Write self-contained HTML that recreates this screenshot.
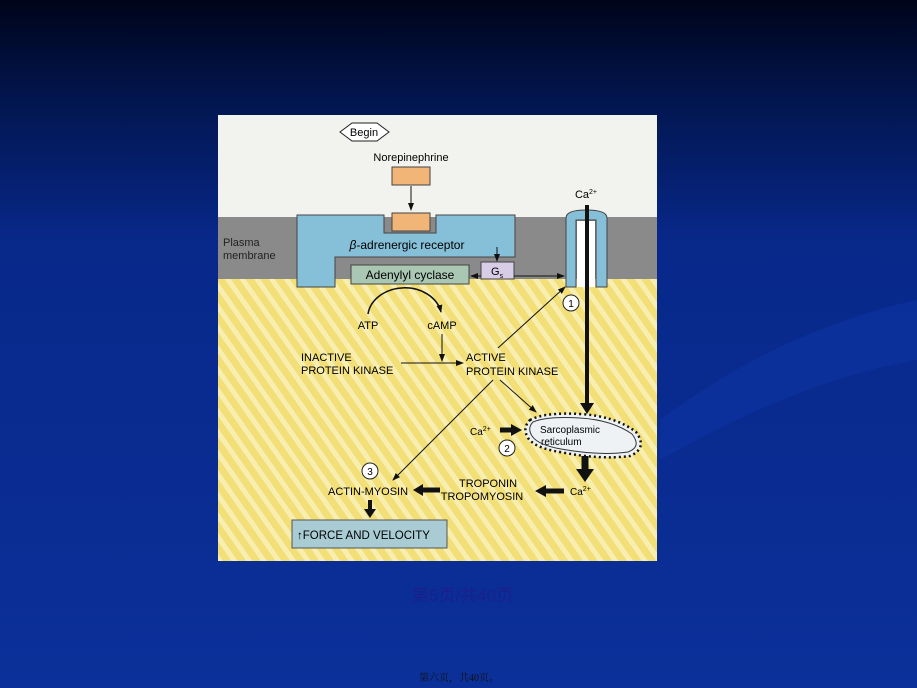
<!DOCTYPE html>
<html><head><meta charset="utf-8"><style>
html,body{margin:0;padding:0;width:917px;height:688px;overflow:hidden;background:linear-gradient(#00041a 0%,#021650 15%,#08288a 35%,#0b3099 100%);}
svg{position:absolute;left:0;top:0}
.cap{position:absolute;left:412px;top:581px;font:17px "Liberation Sans","Noto Sans CJK SC",sans-serif;color:#1a1f8c;}
.foot{position:absolute;left:419px;top:669px;font:10px "Liberation Serif","Noto Serif CJK SC",serif;color:#111;}
</style></head><body>
<svg width="917" height="688" font-family="Liberation Sans, sans-serif">
<defs>
<pattern id="yl" width="12" height="12" patternUnits="userSpaceOnUse" patternTransform="rotate(-35)">
<rect width="12" height="12" fill="#f2df78"/><rect width="5" height="12" fill="#f8eeb0"/></pattern>
<marker id="a" markerWidth="8" markerHeight="8" refX="7" refY="4" orient="auto" markerUnits="userSpaceOnUse"><path d="M0,1 L8,4 L0,7z" fill="#111"/></marker>
</defs>
<path d="M660,420 Q780,330 917,300 L917,360 Q800,380 660,460z" fill="#0d36a6" opacity="0.5"/>
<rect x="218" y="115" width="439" height="446" fill="#f2f2ef"/>
<rect x="218" y="278" width="439" height="283" fill="url(#yl)"/>
<rect x="218" y="217" width="439" height="62" fill="#8a8a8a"/>
<path d="M340,132 L352,123 L377,123 L389,132 L377,141 L352,141z" fill="#fff" stroke="#222"/>
<text x="364" y="136" font-size="11" text-anchor="middle">Begin</text>
<text x="411" y="161" font-size="11" text-anchor="middle">Norepinephrine</text>
<rect x="392" y="167" width="38" height="18" fill="#f0b577" stroke="#444"/>
<line x1="411" y1="186" x2="411" y2="210" stroke="#111" marker-end="url(#a)"/>
<path d="M297,215 L384,215 L384,233 L436,233 L436,215 L515,215 L515,257 L335,257 L335,287 L297,287z" fill="#86bfd8" stroke="#444"/>
<rect x="392" y="213" width="38" height="18" fill="#f0b577" stroke="#444"/>
<text x="407" y="249" font-size="12" text-anchor="middle"><tspan font-style="italic">β</tspan>-adrenergic receptor</text>
<text x="223" y="246" font-size="11" fill="#222">Plasma</text>
<text x="223" y="259" font-size="11" fill="#222">membrane</text>
<rect x="351" y="265" width="118" height="19" fill="#a9c7b2" stroke="#444"/>
<text x="410" y="279" font-size="12" text-anchor="middle">Adenylyl cyclase</text>
<rect x="481" y="262" width="33" height="17" fill="#d8cde6" stroke="#444"/>
<text x="491" y="275" font-size="11">G<tspan font-size="7" dy="3">s</tspan></text>
<line x1="497" y1="247" x2="497" y2="261" stroke="#111" marker-end="url(#a)"/>
<line x1="481" y1="276" x2="471" y2="276" stroke="#111" marker-end="url(#a)"/>
<line x1="514" y1="276" x2="564" y2="276" stroke="#111" marker-end="url(#a)"/>
<path d="M566,287 L566,218 Q566,210 586,210 Q607,210 607,218 L607,287 L596,287 L596,220 L576,220 L576,287z" fill="#86bfd8" stroke="#444"/>
<rect x="577" y="221" width="18" height="66" fill="#fff"/>
<text x="586" y="198" font-size="11" text-anchor="middle">Ca<tspan font-size="7" dy="-4">2+</tspan></text>
<line x1="587" y1="205" x2="587" y2="404" stroke="#111" stroke-width="4"/>
<path d="M580,403 L594,403 L587,414z" fill="#111"/>
<circle cx="571" cy="303" r="8" fill="#fff" stroke="#222"/><text x="571" y="307" font-size="10" text-anchor="middle">1</text>
<path d="M368,314 A37,30 0 0 1 441,312" fill="none" stroke="#111" stroke-width="1.5" marker-end="url(#a)"/>
<text x="368" y="329" font-size="11" text-anchor="middle">ATP</text>
<text x="442" y="329" font-size="11" text-anchor="middle">cAMP</text>
<line x1="442" y1="334" x2="442" y2="361" stroke="#111" marker-end="url(#a)"/>
<text x="301" y="361" font-size="11">INACTIVE</text>
<text x="301" y="374" font-size="11">PROTEIN KINASE</text>
<line x1="401" y1="363" x2="463" y2="363" stroke="#111" marker-end="url(#a)"/>
<text x="466" y="361" font-size="11">ACTIVE</text>
<text x="466" y="375" font-size="11">PROTEIN KINASE</text>
<line x1="498" y1="348" x2="565" y2="287" stroke="#111" marker-end="url(#a)"/>
<line x1="493" y1="380" x2="393" y2="480" stroke="#111" marker-end="url(#a)"/>
<line x1="500" y1="380" x2="536" y2="412" stroke="#111" marker-end="url(#a)"/>
<path d="M530,420 Q545,412 580,414 Q615,416 636,432 Q648,448 630,456 Q600,460 560,452 Q535,448 528,438 Q522,428 530,420z" fill="#eef2f5" stroke="#111" stroke-width="2.5" stroke-dasharray="2,3"/>
<path d="M533,422 Q547,416 580,418 Q612,420 632,434 Q642,447 628,452 Q600,456 561,449 Q538,445 532,436 Q527,428 533,422z" fill="#eef2f5" stroke="#333"/>
<text x="540" y="433" font-size="10">Sarcoplasmic</text>
<text x="541" y="445" font-size="10">reticulum</text>
<text x="470" y="435" font-size="10">Ca<tspan font-size="7" dy="-4">2+</tspan></text>
<line x1="500" y1="430" x2="512" y2="430" stroke="#111" stroke-width="5"/><path d="M511,424 L522,430 L511,436z" fill="#111"/>
<circle cx="507" cy="448" r="8" fill="#fff" stroke="#222"/><text x="507" y="452" font-size="10" text-anchor="middle">2</text>
<line x1="585" y1="456" x2="585" y2="470" stroke="#111" stroke-width="7"/><path d="M576,469 L594,469 L585,482z" fill="#111"/>
<text x="570" y="495" font-size="10">Ca<tspan font-size="7" dy="-4">2+</tspan></text>
<line x1="564" y1="491" x2="545" y2="491" stroke="#111" stroke-width="5"/><path d="M546,485 L535,491 L546,497z" fill="#111"/>
<text x="488" y="487" font-size="11" text-anchor="middle">TROPONIN</text>
<text x="482" y="500" font-size="11" text-anchor="middle">TROPOMYOSIN</text>
<line x1="440" y1="490" x2="422" y2="490" stroke="#111" stroke-width="5"/><path d="M423,484 L413,490 L423,496z" fill="#111"/>
<text x="328" y="495" font-size="11">ACTIN-MYOSIN</text>
<circle cx="370" cy="471" r="8" fill="#fff" stroke="#222"/><text x="370" y="475" font-size="10" text-anchor="middle">3</text>
<line x1="370" y1="500" x2="370" y2="510" stroke="#111" stroke-width="4"/><path d="M364,509 L376,509 L370,518z" fill="#111"/>
<rect x="292" y="520" width="155" height="28" fill="#a9cbd3" stroke="#555"/>
<text x="297" y="539" font-size="11.5">↑FORCE AND VELOCITY</text>
</svg>
<div class="cap">第5页/共40页</div>
<div class="foot">第六页，共40页。</div>
</body></html>
